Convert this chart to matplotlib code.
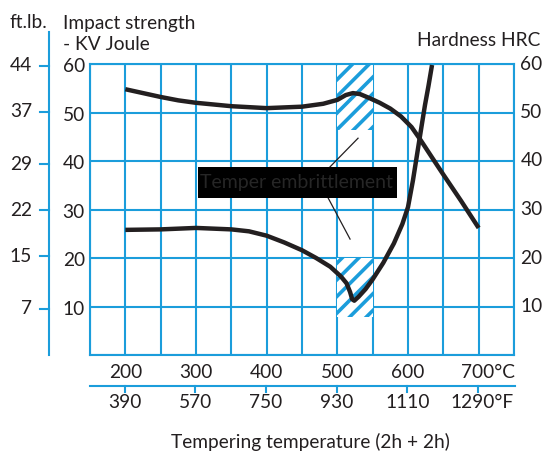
import matplotlib
matplotlib.use("Agg")
import matplotlib.pyplot as plt
from matplotlib.patches import Rectangle
from matplotlib.transforms import blended_transform_factory

# ---------------- data ----------------
hard_T = [200, 225, 250, 275, 300, 350, 400, 450, 480, 500, 512, 522, 532, 545, 560, 575, 590, 605, 617, 635, 650, 675, 700]
hard_v = [54.8, 54.0, 53.2, 52.5, 52.0, 51.3, 50.9, 51.2, 51.8, 52.6, 53.6, 54.0, 53.8, 53.0, 52.0, 50.8, 49.2, 47.0, 44.5, 40.5, 37.2, 31.8, 26.2]

imp_T = [200, 250, 300, 350, 375, 400, 425, 450, 470, 490, 505, 513, 518, 521, 524, 530, 540, 550, 565, 580, 592, 600, 607, 613, 619, 624, 629, 634]
imp_v = [25.8, 25.9, 26.2, 25.9, 25.5, 24.6, 23.2, 21.6, 20.0, 18.2, 16.2, 14.8, 13.0, 11.5, 11.2, 12.0, 13.6, 15.6, 19.0, 23.0, 27.0, 30.5, 36.0, 41.5, 47.0, 51.5, 55.5, 59.8]

celsius_ticks = [200, 300, 400, 500, 600, 700]
celsius_labels = ["200", "300", "400", "500", "600", "700°C"]
fahr_ticks = [390, 570, 750, 930, 1110, 1290]
fahr_labels = ["390", "570", "750", "930", "1110", "1290°F"]
joule_ticks = [10, 20, 30, 40, 50, 60]
hrc_ticks = [10, 20, 30, 40, 50, 60]
ftlb_ticks = [7, 15, 22, 29, 37, 44]
embrittle_T = (500, 550)
embrittle_upper = (46.4, 60)
embrittle_lower = (7.8, 20)

# ---------------- style ----------------
W, H = 545, 453
BLUE = "#1b9ddb"
INK = "#231f20"
plt.rcParams['font.family'] = ['Lato', 'DejaVu Sans']
plt.rcParams['hatch.linewidth'] = 2.6
FS = 13.8

fig = plt.figure(figsize=(W / 100, H / 100), dpi=100)
L, R, T, B = 90, 514, 64, 355
ax = fig.add_axes([L / W, 1 - B / H, (R - L) / W, (B - T) / H])
ax.set_xlim(150, 750)
ax.set_ylim(0, 60)

for s in ax.spines.values():
    s.set_color(BLUE)
    s.set_linewidth(1.5)
ax.set_xticks(list(range(150, 751, 50)))
ax.set_yticks(list(range(0, 61, 10)))
ax.grid(True, color=BLUE, linewidth=1.5)
ax.tick_params(length=0, labelbottom=False, labelleft=False)
ax.set_axisbelow(True)

def px2fx(px):
    return px / W

def py2fy(py):
    return 1 - py / H

# Joule labels (left) and HRC labels (right)
tr_axy = blended_transform_factory(ax.transAxes, ax.transData)
for v in joule_ticks:
    ax.text(-0.012, v - 0.6, str(v), transform=tr_axy, ha='right', va='center', fontsize=FS, color=INK)
for v in hrc_ticks:
    ax.text(1.015, v, str(v), transform=tr_axy, ha='left', va='center', fontsize=FS, color=INK)

# Celsius labels
tr_xfig = blended_transform_factory(ax.transData, fig.transFigure)
for t, lab in zip(celsius_ticks, celsius_labels):
    if lab.endswith("°C"):
        ax.text(751, py2fy(372), lab, transform=tr_xfig, ha='right', va='center', fontsize=FS, color=INK)
    else:
        ax.text(t, py2fy(372), lab, transform=tr_xfig, ha='center', va='center', fontsize=FS, color=INK)

# Fahrenheit axis
fy_line = py2fy(386)
ax.plot([150, 751], [fy_line, fy_line], transform=tr_xfig, color=BLUE, lw=1.5, clip_on=False)
for f, lab in zip(fahr_ticks, fahr_labels):
    c = (f - 32) * 5 / 9
    ax.plot([c, c], [fy_line, py2fy(392)], transform=tr_xfig, color=BLUE, lw=1.5, clip_on=False)
    if lab.endswith("°F"):
        ax.text(750, py2fy(403), lab, transform=tr_xfig, ha='right', va='center', fontsize=FS, color=INK)
    else:
        ax.text(c, py2fy(403), lab, transform=tr_xfig, ha='center', va='center', fontsize=FS, color=INK)

# ft.lb axis
tr_yax = blended_transform_factory(fig.transFigure, ax.transData)
fig.add_artist(plt.Line2D([px2fx(48.5), px2fx(48.5)], [py2fy(355), py2fy(32)], color=BLUE, lw=1.5))
for v in ftlb_ticks:
    j = v / 0.7376
    ax.plot([px2fx(40), px2fx(48.5)], [j, j], transform=tr_yax, color=BLUE, lw=1.5, clip_on=False)
    ax.text(px2fx(32), j, str(v), transform=tr_yax, ha='right', va='center', fontsize=FS, color=INK)

# Titles
fig.text(px2fx(9), py2fy(22), "ft.lb.", ha='left', va='center', fontsize=FS, color=INK)
fig.text(px2fx(63), py2fy(23), "Impact strength", ha='left', va='center', fontsize=FS, color=INK)
fig.text(px2fx(63), py2fy(44), "- KV Joule", ha='left', va='center', fontsize=FS, color=INK)
fig.text(px2fx(540), py2fy(41), "Hardness HRC", ha='right', va='center', fontsize=FS, color=INK)
fig.text(px2fx(310), py2fy(442), "Tempering temperature (2h + 2h)", ha='center', va='center', fontsize=FS, color=INK)

# Embrittlement hatched zones
for lo, hi in (embrittle_upper, embrittle_lower):
    ax.add_patch(Rectangle((embrittle_T[0], lo), embrittle_T[1] - embrittle_T[0], hi - lo,
                           facecolor='white', edgecolor=BLUE, hatch='//', linewidth=0, zorder=2))

# Curves
ax.plot(hard_T, hard_v, color=INK, lw=3.2, solid_capstyle='butt', solid_joinstyle='round', zorder=4)
ax.plot(imp_T, imp_v, color=INK, lw=3.2, solid_capstyle='butt', solid_joinstyle='round', zorder=4)

# Label box and leader lines
ax.plot([489.7, 529.3], [38.8, 44.7], color=INK, lw=0.9, zorder=3)
ax.plot([486.9, 518.0], [32.4, 23.9], color=INK, lw=0.9, zorder=3)
ax.add_patch(Rectangle((302.8, 32.4), 584.5 - 302.8, 38.8 - 32.4, facecolor='black',
                       edgecolor='none', zorder=5))
ax.text(442, 35.5, "Temper embrittlement", ha='center', va='center', fontsize=14,
        color='#262626', zorder=6)

fig.savefig("out.png", dpi=100)
